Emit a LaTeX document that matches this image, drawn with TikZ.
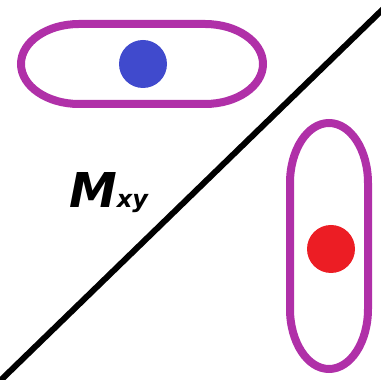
\documentclass[tikz,border=0pt]{standalone}
\usepackage{fontspec}
\usepackage{tikz}
\newfontfamily\labelfont{DejaVu Sans}
\definecolor{ringPurple}{RGB}{176, 48, 168}
\definecolor{dotBlue}{RGB}{64, 74, 205}
\definecolor{dotRed}{RGB}{236, 29, 36}

\begin{document}
\begin{tikzpicture}[x=1pt, y=1pt,
    ring/.style={draw=ringPurple, line width=8pt},
    dot/.style={circle, inner sep=0pt, minimum size=48pt}]
      \useasboundingbox (0,0) rectangle (381,380);
      \clip (0,0) rectangle (381,380);

      \draw[black, line width=6pt] (-5,-5.8) -- (386,373.8);

      \draw[ring] (79,356) -- (205,356) arc[start angle=90, end angle=-90, x radius=58pt, y radius=40pt]
        -- (79,276) arc[start angle=270, end angle=90, x radius=58pt, y radius=40pt] -- cycle;
      \node[dot, fill=dotBlue] (blue) at (143,316) {};

      \draw[ring] (368,71) -- (368,197) arc[start angle=0, end angle=180, x radius=39pt, y radius=60pt]
        -- (290,71) arc[start angle=180, end angle=360, x radius=39pt, y radius=60pt] -- cycle;
      \node[dot, fill=dotRed] (red) at (331,131) {};

      \node[anchor=base west, inner sep=0pt] (mxy) at (69,172)
        {\labelfont\bfseries\itshape\fontsize{48}{48}\selectfont M\fontsize{24}{24}\selectfont xy};
    \end{tikzpicture}
\end{document}
